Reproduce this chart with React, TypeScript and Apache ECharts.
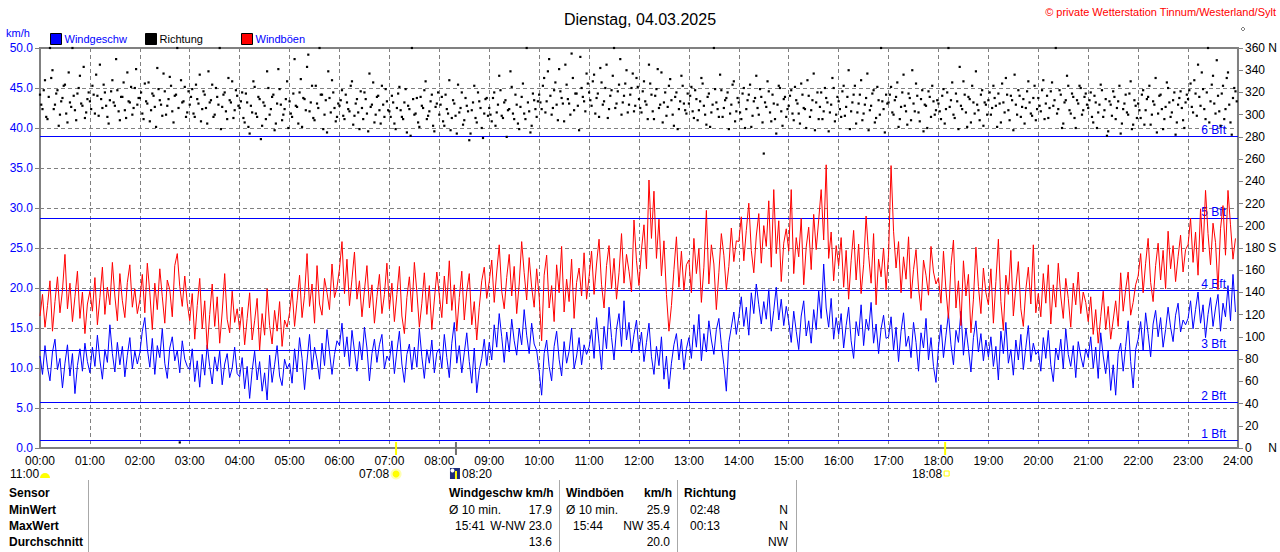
import React, { useEffect, useRef } from 'react';
import * as echarts from 'echarts';

// samples every 3 minutes, 20 per hour
const STEP_MIN = 3;

// Windgeschw km/h
const windSpeed = [
  11.5, 9.2, 12.8, 10.1, 8.4, 12.0, 13.6, 9.8, 11.2, 7.5, 10.6, 12.9, 9.0, 11.8, 6.8, 10.3, 12.4, 9.6, 13.1, 10.8,
  9.4, 12.6, 10.2, 14.1, 11.0, 8.6, 12.3, 10.7, 15.4, 11.8, 9.5, 13.2, 10.4, 12.7, 8.9, 11.6, 13.8, 9.9, 12.1, 10.5,
  11.9, 14.6, 16.3, 12.4, 10.1, 13.7, 9.2, 12.8, 11.3, 14.9, 10.6, 8.7, 12.5, 13.9, 10.9, 12.2, 9.4, 13.4, 11.1, 10.2,
  9.8, 12.4, 8.3, 10.9, 7.6, 11.7, 9.1, 12.9, 10.2, 8.0, 11.4, 9.6, 12.1, 7.9, 10.5, 11.8, 8.8, 10.0, 12.6, 9.3,
  8.9, 11.3, 7.4, 10.2, 6.2, 9.7, 12.1, 8.5, 10.8, 7.1, 9.4, 6.0, 11.6, 8.2, 10.4, 12.8, 9.0, 7.8, 11.1, 9.9,
  10.6, 8.1, 12.4, 9.5, 13.8, 11.2, 7.3, 10.9, 14.2, 9.8, 12.6, 11.0, 8.6, 13.1, 10.3, 14.8, 12.0, 9.2, 11.7, 13.4,
  12.8, 15.6, 11.4, 13.9, 10.2, 14.7, 12.1, 9.6, 13.3, 11.0, 15.1, 12.5, 8.4, 11.8, 13.6, 10.7, 12.9, 14.2, 9.9, 11.5,
  10.9, 13.4, 9.3, 12.1, 14.6, 10.5, 8.2, 11.7, 13.0, 9.8, 12.6, 10.1, 14.9, 11.4, 8.7, 12.3, 10.6, 13.5, 9.4, 11.9,
  12.4, 10.0, 14.2, 11.3, 8.8, 13.1, 15.7, 10.6, 12.8, 9.4, 11.9, 14.4, 10.8, 8.1, 12.5, 6.9, 9.7, 11.2, 13.6, 10.3,
  13.2, 11.0, 15.4, 12.6, 16.8, 13.9, 10.7, 14.5, 12.0, 16.1, 13.4, 11.6, 15.0, 12.9, 17.3, 14.1, 11.8, 15.6, 13.0, 12.2,
  9.6, 6.6, 11.8, 13.5, 10.2, 8.4, 12.7, 14.6, 11.1, 9.0, 13.3, 10.6, 12.1, 15.0, 9.9, 11.5, 13.8, 10.4, 12.9, 11.7,
  12.6, 14.8, 11.2, 16.3, 13.1, 9.8, 15.2, 12.4, 17.6, 13.8, 11.0, 14.9, 16.8, 12.7, 18.4, 13.5, 15.7, 11.9, 14.2, 16.0,
  12.1, 14.5, 10.8, 13.2, 15.6, 11.4, 9.2, 12.7, 10.3, 13.9, 8.6, 11.5, 7.4, 10.6, 12.9, 14.3, 11.0, 13.6, 9.8, 12.4,
  13.8, 11.2, 15.4, 12.6, 16.7, 10.9, 14.3, 12.0, 15.9, 13.5, 11.7, 14.8, 16.2, 12.9, 10.4, 7.1, 13.2, 15.1, 17.0, 14.2,
  16.4, 18.9, 15.2, 17.6, 14.1, 19.4, 16.8, 20.5, 17.9, 15.5, 18.3, 16.1, 19.8, 14.6, 17.2, 20.1, 16.0, 18.6, 15.3, 17.7,
  15.8, 13.2, 17.1, 14.6, 12.3, 16.5, 18.4, 14.0, 15.9, 13.1, 17.3, 14.8, 19.6, 16.2, 23.0, 17.5, 15.1, 18.7, 13.6, 16.3,
  14.2, 16.8, 12.5, 15.3, 17.6, 13.4, 11.2, 15.8, 14.0, 17.9, 12.8, 16.1, 14.7, 18.2, 13.1, 15.5, 11.8, 14.9, 16.6, 13.7,
  13.9, 16.4, 12.2, 15.1, 10.8, 14.6, 16.9, 12.7, 14.0, 11.3, 15.7, 13.2, 9.6, 14.4, 12.5, 16.2, 11.0, 13.8, 10.2, 8.2,
  12.6, 15.4, 11.3, 14.1, 16.8, 12.9, 10.4, 14.7, 13.2, 17.1, 11.6, 15.0, 12.4, 9.5, 13.8, 15.9, 12.0, 14.3, 10.9, 13.5,
  11.4, 13.9, 10.2, 12.7, 8.5, 14.6, 11.8, 15.7, 10.6, 12.3, 9.1, 13.5, 11.0, 14.2, 9.8, 12.6, 15.3, 10.8, 13.1, 11.7,
  12.1, 9.6, 13.8, 11.2, 14.7, 10.4, 8.3, 12.5, 11.0, 13.6, 9.9, 14.9, 11.7, 10.2, 12.8, 8.8, 13.3, 11.5, 10.1, 12.4,
  11.3, 13.9, 10.0, 12.6, 8.7, 14.4, 11.5, 9.3, 12.2, 7.2, 10.4, 6.6, 11.8, 13.1, 9.6, 12.7, 15.9, 10.8, 7.5, 12.3,
  13.6, 15.8, 12.2, 16.9, 14.3, 11.4, 15.5, 17.2, 13.9, 16.3, 12.6, 14.8, 17.6, 15.1, 13.3, 16.6, 18.1, 14.5, 16.0, 15.4,
  16.2, 18.4, 14.9, 17.3, 19.5, 15.6, 17.9, 13.8, 16.7, 18.8, 15.2, 17.5, 19.2, 14.6, 18.1, 16.4, 20.3, 15.9, 21.7, 17.0,
];

// Windböen km/h
const windGust = [
  16.5, 19.2, 15.1, 17.8, 20.9, 14.6, 18.3, 21.4, 16.9, 19.7, 24.2, 17.4, 20.6, 15.8, 18.9, 22.1, 16.2, 19.5, 14.3, 18.0,
  19.6, 17.1, 21.3, 15.4, 18.8, 22.6, 16.7, 20.1, 17.9, 23.2, 19.0, 15.9, 21.8, 18.4, 16.3, 20.7, 22.9, 17.6, 19.9, 16.8,
  18.5, 21.7, 16.9, 23.1, 19.4, 14.8, 20.6, 17.3, 22.4, 18.9, 15.6, 21.0, 19.8, 16.4, 22.8, 24.3, 20.2, 17.7, 21.5, 18.1,
  15.9, 19.3, 13.6, 17.8, 21.2, 14.9, 18.4, 12.4, 16.7, 20.5, 15.2, 18.9, 13.1, 17.0, 21.8, 16.1, 14.4, 19.6, 15.7, 17.4,
  14.8, 17.6, 12.9, 16.2, 19.4, 13.5, 15.9, 18.7, 12.2, 16.8, 14.1, 19.9, 15.3, 13.0, 17.2, 14.6, 18.3, 12.7, 16.0, 15.1,
  16.9, 19.8, 15.2, 18.4, 21.6, 16.3, 19.1, 24.3, 17.7, 20.5, 15.6, 22.8, 18.0, 16.6, 21.2, 19.4, 17.3, 23.0, 18.8, 20.1,
  22.4, 25.8, 19.3, 23.6, 17.8, 21.1, 24.5, 18.6, 20.9, 16.4, 19.7, 22.8, 17.5, 20.4, 15.6, 18.9, 21.7, 16.8, 19.2, 23.1,
  17.4, 20.6, 15.8, 19.2, 22.7, 16.5, 14.3, 18.8, 21.4, 17.0, 23.2, 19.5, 15.1, 18.1, 21.9, 16.7, 20.3, 14.8, 18.5, 22.0,
  19.1, 16.3, 21.5, 18.0, 23.4, 17.2, 20.4, 14.6, 18.8, 22.1, 16.0, 19.6, 21.8, 15.4, 18.3, 13.5, 17.6, 20.9, 22.6, 18.7,
  20.8, 23.5, 18.2, 22.0, 25.4, 19.6, 17.4, 21.3, 24.2, 19.0, 22.7, 16.8, 20.5, 25.8, 21.9, 18.5, 23.8, 20.1, 17.6, 22.4,
  18.9, 13.4, 21.6, 24.1, 17.5, 20.3, 15.8, 22.9, 19.4, 25.2, 17.0, 21.1, 18.3, 23.6, 16.2, 20.7, 22.5, 19.0, 24.4, 18.6,
  21.4, 24.6, 19.2, 23.0, 26.1, 20.4, 17.5, 22.8, 25.3, 19.9, 23.7, 18.6, 21.9, 26.8, 20.6, 24.2, 22.1, 19.5, 28.5, 23.4,
  20.3, 24.8, 27.9, 22.4, 33.5, 26.2, 32.1, 23.7, 28.6, 21.5, 25.9, 19.2, 14.6, 17.8, 22.3, 26.4, 20.1, 24.6, 19.7, 22.9,
  23.5, 19.4, 26.2, 21.8, 24.9, 18.2, 22.6, 29.7, 20.5, 25.4, 23.0, 17.3, 21.9, 26.8, 24.1, 19.8, 22.7, 27.5, 23.3, 25.9,
  25.8, 28.9, 23.4, 27.2, 30.6, 24.7, 21.9, 26.5, 29.3, 23.1, 27.8, 25.2, 30.9, 22.6, 32.3, 24.3, 28.4, 20.8, 25.6, 27.4,
  24.6, 32.3, 21.8, 26.3, 23.9, 28.7, 20.4, 25.1, 27.6, 22.3, 29.2, 24.8, 28.5, 32.3, 26.0, 35.4, 23.7, 27.0, 20.9, 25.3,
  22.8, 26.3, 20.1, 24.7, 18.6, 23.4, 27.2, 21.0, 25.5, 19.3, 22.9, 29.0, 24.1, 20.6, 26.8, 17.9, 23.6, 21.4, 25.0, 19.8,
  24.2, 35.3, 27.1, 22.5, 25.8, 19.4, 23.9, 21.1, 26.4, 18.7, 22.3, 24.8, 20.0, 17.2, 23.5, 21.6, 19.1, 25.2, 22.0, 20.5,
  21.3, 18.1, 24.6, 19.7, 16.2, 22.8, 26.0, 17.5, 20.9, 15.3, 23.4, 19.0, 21.7, 14.4, 18.6, 25.1, 20.2, 16.8, 22.5, 19.4,
  17.9, 22.4, 15.6, 20.8, 26.1, 18.3, 14.7, 21.6, 19.2, 24.7, 16.5, 20.1, 23.3, 17.4, 15.2, 19.8, 22.6, 18.0, 25.4, 16.9,
  19.3, 16.4, 21.8, 18.1, 22.9, 15.5, 20.4, 17.6, 23.1, 19.0, 16.2, 21.2, 18.7, 15.1, 20.6, 17.9, 22.0, 16.8, 19.5, 18.2,
  15.8, 18.9, 14.2, 17.3, 13.1, 16.4, 19.6, 14.8, 17.7, 13.6, 16.0, 18.4, 15.2, 21.9, 17.1, 19.8, 22.0, 16.6, 18.2, 20.4,
  21.5, 24.3, 19.4, 23.1, 26.2, 20.7, 18.3, 22.8, 25.6, 21.0, 24.7, 19.9, 27.1, 22.4, 25.3, 20.8, 23.9, 26.6, 22.0, 24.8,
  25.4, 28.7, 23.2, 27.0, 21.6, 29.9, 24.5, 32.2, 26.8, 22.9, 28.1, 25.7, 19.8, 27.4, 30.3, 24.1, 32.2, 27.9, 23.6, 26.2,
];

// Richtung in degrees, on the full 3-minute marks
const windDir = [
  318, 305, 331, 296, 360, 340, 309, 322, 300, 315, 327, 293, 311, 360, 304, 319, 335, 308, 297, 314,
  312, 326, 301, 317, 345, 306, 320, 298, 313, 331, 308, 322, 295, 316, 304, 338, 311, 300, 324, 309,
  315, 301, 328, 310, 294, 319, 307, 342, 313, 299, 321, 308, 334, 303, 317, 360, 5, 311, 325, 302,
  309, 323, 298, 314, 336, 305, 318, 292, 311, 327, 300, 316, 360, 307, 320, 296, 313, 330, 304, 317,
  306, 320, 293, 311, 283, 302, 325, 298, 314, 290, 308, 339, 300, 316, 286, 310, 323, 295, 305, 330,
  312, 298, 350, 307, 320, 289, 314, 343, 303, 326, 295, 310, 360, 318, 300, 284, 315, 331, 306, 298,
  308, 322, 296, 311, 303, 330, 299, 314, 287, 306, 320, 301, 337, 309, 293, 316, 304, 326, 298, 312,
  303, 317, 292, 306, 325, 298, 311, 284, 305, 360, 300, 315, 289, 308, 322, 296, 303, 318, 285, 310,
  300, 316, 290, 305, 331, 297, 310, 283, 302, 320, 295, 308, 277, 304, 326, 293, 312, 288, 301, 315,
  306, 294, 320, 302, 335, 299, 311, 280, 305, 325, 296, 309, 287, 316, 301, 360, 303, 290, 313, 298,
  318, 305, 333, 312, 350, 300, 322, 309, 341, 315, 294, 327, 310, 355, 304, 319, 286, 324, 312, 337,
  320, 308, 336, 315, 298, 329, 312, 345, 305, 322, 360, 310, 327, 300, 317, 340, 309, 324, 303, 333,
  314, 302, 330, 309, 345, 318, 296, 323, 306, 338, 311, 299, 326, 313, 290, 320, 305, 335, 310, 301,
  310, 325, 297, 314, 304, 333, 308, 291, 319, 302, 360, 311, 298, 322, 306, 315, 287, 309, 330, 303,
  311, 296, 324, 305, 318, 289, 312, 335, 300, 316, 265, 307, 321, 294, 310, 283, 326, 303, 314, 298,
  308, 322, 295, 313, 301, 328, 306, 288, 317, 304, 337, 311, 296, 320, 303, 315, 285, 309, 324, 300,
  312, 298, 326, 307, 340, 303, 318, 292, 310, 331, 301, 315, 286, 308, 322, 297, 313, 360, 305, 318,
  311, 325, 300, 316, 289, 307, 336, 303, 319, 295, 310, 328, 302, 314, 285, 308, 321, 298, 312, 304,
  310, 296, 323, 305, 360, 313, 300, 319, 287, 308, 330, 302, 316, 293, 311, 339, 304, 318, 290, 309,
  313, 300, 326, 308, 319, 293, 311, 333, 304, 317, 286, 309, 322, 298, 314, 306, 330, 301, 315, 295,
  315, 303, 331, 310, 297, 321, 308, 360, 305, 318, 292, 313, 326, 301, 316, 288, 310, 324, 304, 319,
  306, 320, 293, 311, 302, 327, 298, 314, 285, 309, 321, 296, 312, 283, 305, 318, 300, 330, 291, 308,
  310, 297, 322, 304, 316, 291, 312, 333, 301, 318, 287, 307, 324, 298, 313, 282, 309, 321, 295, 311,
  314, 328, 302, 319, 345, 308, 323, 296, 360, 312, 335, 301, 317, 290, 326, 305, 338, 293, 315, 321,
];

// Richtung in degrees, half way between the 3-minute marks
const windDirMid = [
  309, 322, 298, 316, 333, 305, 319, 290, 312, 326, 301, 338, 307, 317, 295, 324, 310, 343, 302, 320,
  305, 318, 336, 299, 314, 327, 308, 292, 321, 311, 350, 303, 316, 329, 297, 312, 325, 306, 341, 315,
  320, 296, 312, 329, 304, 317, 289, 323, 309, 337, 300, 314, 326, 293, 318, 306, 331, 312, 298, 321,
  316, 301, 327, 310, 294, 321, 306, 339, 313, 298, 324, 309, 287, 318, 303, 333, 311, 297, 322, 308,
  312, 297, 319, 289, 308, 330, 301, 316, 278, 311, 296, 324, 305, 318, 292, 341, 309, 300, 314, 288,
  301, 319, 308, 292, 332, 315, 304, 354, 311, 297, 326, 306, 318, 287, 313, 339, 302, 320, 294, 310,
  313, 299, 318, 305, 326, 291, 310, 302, 321, 296, 314, 285, 307, 329, 300, 317, 292, 309, 323, 304,
  298, 311, 287, 319, 304, 296, 323, 308, 281, 314, 301, 293, 316, 306, 330, 299, 312, 290, 307, 320,
  309, 294, 318, 301, 286, 313, 299, 327, 306, 291, 315, 303, 283, 311, 297, 320, 306, 279, 314, 299,
  300, 315, 290, 309, 322, 297, 313, 304, 339, 301, 318, 292, 307, 328, 296, 311, 284, 319, 305, 312,
  311, 326, 302, 339, 317, 306, 329, 295, 321, 310, 345, 314, 300, 333, 319, 308, 352, 316, 303, 328,
  313, 330, 301, 319, 342, 309, 324, 297, 317, 335, 306, 321, 350, 311, 328, 302, 318, 337, 308, 325,
  306, 321, 312, 296, 328, 303, 317, 341, 309, 293, 320, 307, 332, 300, 316, 287, 312, 326, 304, 319,
  317, 303, 322, 295, 312, 328, 300, 316, 289, 309, 323, 305, 336, 298, 313, 320, 301, 327, 294, 315,
  302, 319, 288, 313, 327, 299, 315, 306, 323, 293, 311, 330, 302, 318, 296, 309, 324, 290, 316, 305,
  317, 301, 325, 310, 292, 318, 305, 331, 298, 313, 286, 320, 307, 296, 324, 311, 302, 333, 294, 316,
  305, 321, 299, 316, 287, 311, 326, 302, 318, 295, 309, 337, 304, 319, 293, 325, 300, 312, 284, 310,
  318, 302, 313, 329, 296, 320, 308, 291, 315, 340, 303, 317, 294, 322, 309, 288, 316, 326, 300, 313,
  303, 317, 292, 320, 307, 329, 297, 312, 343, 305, 318, 289, 314, 326, 301, 309, 295, 322, 311, 300,
  320, 306, 315, 289, 310, 328, 302, 318, 295, 313, 336, 300, 317, 307, 292, 321, 311, 299, 326, 305,
  308, 322, 296, 317, 306, 329, 313, 301, 322, 288, 311, 335, 304, 319, 297, 313, 326, 300, 316, 309,
  313, 298, 317, 288, 309, 322, 304, 281, 312, 299, 316, 306, 326, 292, 310, 302, 319, 287, 313, 297,
  304, 318, 291, 314, 326, 300, 309, 284, 317, 305, 296, 329, 311, 302, 320, 293, 315, 306, 288, 318,
  322, 307, 331, 299, 316, 338, 305, 320, 293, 327, 310, 349, 303, 319, 296, 333, 309, 282, 324, 312,
];

// Beaufort limits in km/h
const bftLevels = [1.08, 5.76, 12.24, 19.8, 28.8, 38.88];
const bftNames = ['1 Bft', '2 Bft', '3 Bft', '4 Bft', '5 Bft', '6 Bft'];

const dirNames: Record<number, string> = { 0: '\u00a0\u00a0\u00a0\u00a0\u00a0N', 180: '\u00a0S', 360: '\u00a0N' };

// sun / moon events, minutes of the day
const events = [
  { time: 428, label: '07:08', kind: 'sunrise' },
  { time: 500, label: '08:20', kind: 'moon' },
  { time: 1088, label: '18:08', kind: 'sunset' },
];

const rowLabels = ['Sensor', 'MinWert', 'MaxWert', 'Durchschnitt'];
const speedRows = [['Ø 10 min.', '17.9'], ['15:41', 'W-NW 23.0'], ['', '13.6']];
const gustRows = [['Ø 10 min.', '25.9'], ['15:44', 'NW 35.4'], ['', '20.0']];
const dirRows = [['02:48', 'N'], ['00:13', 'N'], ['', 'NW']];

const ARIAL = '"Liberation Sans", Arial, sans-serif';
const NARROW = '"Liberation Sans Narrow", "Arial Narrow", "Liberation Sans", Arial, sans-serif';
const BLUE = '#0000ff';
const RED = '#ff0000';
const GRAY = '#808080';

const pad = (n: number) => String(n).padStart(2, '0');
const toPairs = (arr: number[], offset = 0) => arr.map((v, i) => [i * STEP_MIN + offset, v]);

const WindChart: React.FC = () => {
  const chartRef = useRef<HTMLDivElement>(null);

  useEffect(() => {
    const chart = echarts.init(chartRef.current!, null, { renderer: 'svg' });

    const rowY = [493, 509.5, 525.5, 541.5];
    const columns = [
      { rows: speedRows, oX: 449, tX: 455, rX: 552 },
      { rows: gustRows, oX: 566, tX: 573, rX: 670 },
      { rows: dirRows, oX: 690, tX: 690, rX: 788 },
    ];
    const headers = [
      { text: 'Windgeschw km/h', x: 449, align: 'left' },
      { text: 'Windböen', x: 566, align: 'left' },
      { text: 'km/h', x: 672, align: 'right' },
      { text: 'Richtung', x: 684, align: 'left' },
    ];

    const tableGraphics: any[] = [];
    rowLabels.forEach((t, i) => {
      tableGraphics.push({
        type: 'text', x: 9, y: rowY[i],
        style: { text: t, fill: '#000', font: `bold 12px ${ARIAL}`, verticalAlign: 'middle' },
      });
    });
    headers.forEach((h) => {
      tableGraphics.push({
        type: 'text', x: h.x, y: rowY[0],
        style: { text: h.text, fill: '#000', font: `bold 12px ${ARIAL}`, align: h.align, verticalAlign: 'middle' },
      });
    });
    columns.forEach((c) => {
      c.rows.forEach((r, i) => {
        if (r[0]) {
          tableGraphics.push({
            type: 'text', x: r[0].startsWith('Ø') ? c.oX : c.tX, y: rowY[i + 1],
            style: { text: r[0], fill: '#000', font: `12px ${NARROW}`, verticalAlign: 'middle' },
          });
        }
        tableGraphics.push({
          type: 'text', x: c.rX, y: rowY[i + 1],
          style: { text: r[1], fill: '#000', font: `12px ${NARROW}`, align: 'right', verticalAlign: 'middle' },
        });
      });
    });
    [88.5, 559.5, 677.5, 796.5].forEach((x) => {
      tableGraphics.push({
        type: 'line', shape: { x1: x, y1: 480, x2: x, y2: 552 },
        style: { stroke: '#a8a8a8', lineWidth: 1 },
      });
    });

    const legendBase = {
      icon: 'rect',
      itemWidth: 11,
      itemHeight: 11,
      padding: 0,
      top: 33,
      itemStyle: { borderColor: '#000', borderWidth: 1, opacity: 1 },
      textStyle: { fontFamily: ARIAL, fontSize: 11, padding: [0, 0, 0, -2] },
    };

    const option = {
      animation: false,
      backgroundColor: '#ffffff',
      title: {
        text: 'Dienstag, 04.03.2025',
        left: 'center',
        top: 6,
        textStyle: { fontFamily: ARIAL, fontSize: 16, fontWeight: 'normal', color: '#000' },
      },
      legend: [
        { ...legendBase, left: 50, data: [{ name: 'Windgeschw', textStyle: { color: BLUE } }] },
        { ...legendBase, left: 145, data: [{ name: 'Richtung', textStyle: { color: '#000' } }] },
        { ...legendBase, left: 241, data: [{ name: 'Windböen', textStyle: { color: BLUE } }] },
      ],
      grid: {
        left: 40,
        right: 40,
        top: 48,
        bottom: 104,
        show: true,
        borderColor: GRAY,
        borderWidth: 2,
      },
      xAxis: {
        type: 'value',
        min: 0,
        max: 1440,
        interval: 60,
        axisLine: { show: true, lineStyle: { color: GRAY, width: 2 } },
        axisTick: { show: false },
        axisLabel: {
          color: '#000',
          fontFamily: NARROW,
          fontSize: 12,
          lineHeight: 12,
          margin: 7,
          formatter: (v: number) => `${pad(Math.floor(v / 60))}:00`,
        },
        splitLine: { show: true, lineStyle: { color: GRAY, type: [4, 3], width: 1 } },
      },
      yAxis: [
        {
          type: 'value',
          min: 0,
          max: 50,
          interval: 5,
          axisLine: { show: true, lineStyle: { color: GRAY, width: 2 } },
          axisTick: { show: true, length: 5, lineStyle: { color: GRAY } },
          axisLabel: {
            color: BLUE,
            fontFamily: NARROW,
            fontSize: 12,
            margin: 7,
            formatter: (v: number) => v.toFixed(1),
          },
          splitLine: { show: true, lineStyle: { color: GRAY, type: [4, 3], width: 1 } },
        },
        {
          type: 'value',
          min: 0,
          max: 360,
          interval: 20,
          position: 'right',
          axisLine: { show: true, lineStyle: { color: GRAY, width: 2 } },
          axisTick: { show: true, length: 5, lineStyle: { color: GRAY } },
          axisLabel: {
            color: '#000',
            fontFamily: NARROW,
            fontSize: 12,
            margin: 7,
            formatter: (v: number) => `${v}${dirNames[v] || ''}`,
          },
          splitLine: { show: false },
        },
      ],
      series: [
        {
          name: 'Bft',
          type: 'custom',
          silent: true,
          clip: false,
          data: bftLevels.map((v) => [0, v]),
          renderItem: (params: any, api: any) => {
            const v = api.value(1);
            const [x1, yRaw] = api.coord([0, v]);
            const [x2] = api.coord([1440, v]);
            // snap to a whole pixel row
            const y = 2 * Math.round(yRaw / 2) + 0.5;
            return {
              type: 'group',
              children: [
                { type: 'line', shape: { x1, y1: y, x2, y2: y }, style: { stroke: BLUE, lineWidth: 1 } },
                {
                  type: 'text',
                  x: x2 - 12,
                  y: y - 1,
                  style: {
                    text: bftNames[params.dataIndex],
                    fill: BLUE,
                    font: `12px ${NARROW}`,
                    align: 'right',
                    verticalAlign: 'bottom',
                  },
                },
              ],
            };
          },
        },
        {
          name: 'Windgeschw',
          type: 'line',
          data: toPairs(windSpeed),
          showSymbol: false,
          symbol: 'none',
          color: BLUE,
          lineStyle: { color: BLUE, width: 1 },
        },
        {
          name: 'Windböen',
          type: 'line',
          data: toPairs(windGust),
          showSymbol: false,
          symbol: 'none',
          color: RED,
          lineStyle: { color: RED, width: 1 },
        },
        {
          name: 'Richtung',
          type: 'scatter',
          yAxisIndex: 1,
          data: [...toPairs(windDir), ...toPairs(windDirMid, STEP_MIN / 2)],
          symbol: 'rect',
          symbolSize: 2.2,
          color: '#000',
          itemStyle: { color: '#000', opacity: 1 },
        },
        {
          name: 'events',
          type: 'custom',
          silent: true,
          clip: false,
          data: events.map((e) => [e.time, 0]),
          renderItem: (params: any, api: any) => {
            const ev = events[params.dataIndex];
            const [x, y0] = api.coord([api.value(0), 0]);
            const ty = y0 + 26;
            const font = `12px ${NARROW}`;
            const children: any[] = [
              {
                type: 'rect',
                shape: { x: x - 1, y: y0 - 6, width: 2, height: 13 },
                style: { fill: ev.kind === 'moon' ? '#707070' : '#ffff00' },
              },
            ];
            if (ev.kind === 'sunrise') {
              children.push(
                { type: 'circle', shape: { cx: x, cy: ty, r: 5.5 }, style: { fill: '#ffffb0' } },
                { type: 'circle', shape: { cx: x, cy: ty, r: 3.5 }, style: { fill: '#ffff00' } },
                { type: 'text', x: x - 7, y: ty, style: { text: ev.label, fill: '#000', font, lineHeight: 12, align: 'right', verticalAlign: 'middle' } },
              );
            } else if (ev.kind === 'moon') {
              children.push(
                { type: 'rect', shape: { x: x - 6, y: ty - 6, width: 10, height: 11 }, style: { fill: '#1c2c7c' } },
                { type: 'circle', shape: { cx: x - 3.5, cy: ty - 3.5, r: 2 }, style: { fill: '#ffffff' } },
                { type: 'rect', shape: { x: x - 1, y: ty - 3, width: 2, height: 8 }, style: { fill: '#ffff00' } },
                { type: 'text', x: x + 6, y: ty, style: { text: ev.label, fill: '#000', font, lineHeight: 12, verticalAlign: 'middle' } },
              );
            } else {
              children.push(
                { type: 'rect', shape: { x: x - 1, y: ty - 3, width: 5, height: 5 }, style: { fill: 'none', stroke: '#ffff00', lineWidth: 1 } },
                { type: 'text', x: x - 3, y: ty, style: { text: ev.label, fill: '#000', font, lineHeight: 12, align: 'right', verticalAlign: 'middle' } },
              );
            }
            return { type: 'group', children };
          },
        },
      ],
      graphic: [
        {
          type: 'text', x: 6, y: 33,
          style: { text: 'km/h', fill: BLUE, font: `11px ${ARIAL}`, verticalAlign: 'middle' },
        },
        {
          type: 'text', x: 1276, y: 12,
          style: { text: '© private Wetterstation Tinnum/Westerland/Sylt', fill: RED, font: `11px ${NARROW}`, align: 'right', verticalAlign: 'middle' },
        },
        {
          type: 'polygon',
          shape: { points: [[1243, 27], [1245, 29], [1243, 31], [1241, 29]] },
          style: { fill: 'none', stroke: '#808080', lineWidth: 1 },
        },
        {
          type: 'text', x: 10, y: 474,
          style: { text: '11:00', fill: '#000', font: `12px ${NARROW}`, lineHeight: 12, verticalAlign: 'middle' },
        },
        {
          type: 'sector',
          shape: { cx: 45, cy: 478, r: 5, r0: 0, startAngle: Math.PI, endAngle: Math.PI * 2 },
          style: { fill: '#ffff00' },
        },
        ...tableGraphics,
      ],
    };

    chart.setOption(option as any);

    return () => {
      chart.dispose();
    };
  }, []);

  return (
    <div
      ref={chartRef}
      style={{ position: 'absolute', left: 0, top: 0, width: '1280px', height: '552px' }}
    />
  );
};

export default function App() {
  return <WindChart />;
}
